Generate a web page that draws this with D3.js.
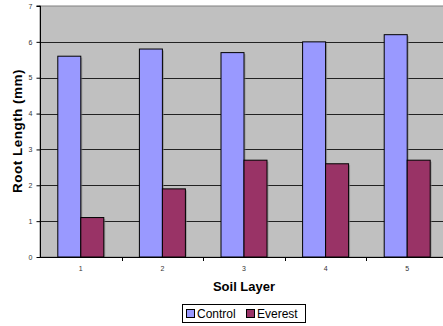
<!DOCTYPE html>
<html><head><meta charset="utf-8">
<script src="https://cdn.jsdelivr.net/npm/d3@7"></script>
<style>body{margin:0;background:#fff}svg{display:block}</style>
</head><body>
<script>
const categories = ["1","2","3","4","5"];
const seriesNames = ["Control","Everest"];
const control = [5.6, 5.8, 5.7, 6.0, 6.2];
const everest = [1.1, 1.9, 2.7, 2.6, 2.7];
const yTicks = [0,1,2,3,4,5,6,7];
const colors = ["#9999FF","#993366"];

const W=443,H=326;
const svg=d3.select("body").append("svg").attr("width",W).attr("height",H);
const x0=40, x1=448, yTop=6, yBot=257;
const x=d3.scaleBand().domain(categories).range([x0,x1]).paddingInner(0).paddingOuter(0);
const y=d3.scaleLinear().domain([0,7]).range([yBot,yTop]);
const xs=d3.scaleBand().domain(seriesNames).range([0,46]);
const bw=x.bandwidth();

svg.append("rect").attr("x",x0).attr("y",yTop).attr("width",x1-x0).attr("height",yBot-yTop).attr("fill","#C0C0C0").attr("stroke","#808080").attr("stroke-width",1);

// gridlines
svg.append("g").selectAll("line").data(yTicks.filter(d=>d>0&&d<7)).join("line")
 .attr("x1",x0).attr("x2",x1).attr("y1",d=>Math.round(y(d))+0.5).attr("y2",d=>Math.round(y(d))+0.5)
 .attr("stroke","#222").attr("stroke-width",1);

const data=categories.map((c,i)=>({c,vals:[control[i],everest[i]]}));
const g=svg.append("g");
data.forEach(d=>{
  d.vals.forEach((v,j)=>{
    const bx=x(d.c)+bw/2-23+xs(seriesNames[j]);
    g.append("rect").attr("x",bx+1.5).attr("y",y(v)+1.5).attr("width",xs.bandwidth()).attr("height",yBot-y(v)-1.5)
     .attr("fill","#808080").attr("opacity",0.6);
    g.append("rect").attr("x",bx).attr("y",y(v)).attr("width",xs.bandwidth()).attr("height",yBot-y(v))
     .attr("fill",colors[j]).attr("stroke","#000").attr("stroke-width",1);
  });
});

// y axis
const ya=svg.append("g").attr("transform",`translate(${x0+0.5},0)`)
 .call(d3.axisLeft(y).tickValues(yTicks).tickSize(4).tickFormat(d3.format("d")));
ya.select(".domain").attr("stroke","#000").attr("d",`M-4,${yTop}H0V${yBot}`);
ya.selectAll("line").attr("stroke","#000");
ya.selectAll("text").attr("font-family","Arial, Liberation Sans, sans-serif").attr("font-size",7).attr("fill","#333").attr("dx",-1);

// x axis
const xa=svg.append("g").attr("transform",`translate(0,${yBot+0.5})`)
 .call(d3.axisBottom(x).tickSize(0).tickPadding(9));
xa.select(".domain").attr("stroke","#000").attr("d",`M${x0},0H${x1}`);
xa.selectAll("text").attr("font-family","Arial, Liberation Sans, sans-serif").attr("font-size",7).attr("fill","#333");
svg.append("g").selectAll("line").data(categories.slice(1)).join("line")
 .attr("x1",d=>Math.round(x(d))+0.5).attr("x2",d=>Math.round(x(d))+0.5).attr("y1",yBot).attr("y2",yBot+4).attr("stroke","#000");

// titles
svg.append("text").attr("x",244).attr("y",291).attr("text-anchor","middle")
 .attr("font-family","Arial, Liberation Sans, sans-serif").attr("font-weight","bold").attr("font-size",13).text("Soil Layer");
svg.append("text").attr("transform","translate(22,131) rotate(-90)").attr("text-anchor","middle")
 .attr("font-family","Arial, Liberation Sans, sans-serif").attr("font-weight","bold").attr("font-size",13.5)
 .attr("letter-spacing",0.5).text("Root Length (mm)");

// legend
const lg=svg.append("g");
lg.append("rect").attr("x",182.5).attr("y",304.5).attr("width",123).attr("height",18).attr("fill","#fff").attr("stroke","#000");
const items=[{n:seriesNames[0],c:colors[0],x:186},{n:seriesNames[1],c:colors[1],x:246}];
items.forEach(it=>{
  lg.append("rect").attr("x",it.x+0.5).attr("y",309.5).attr("width",8).attr("height",8).attr("fill",it.c).attr("stroke","#000");
  lg.append("text").attr("x",it.x+11).attr("y",318).attr("font-family","Arial, Liberation Sans, sans-serif").attr("font-size",12).text(it.n);
});
</script>
</body></html>
